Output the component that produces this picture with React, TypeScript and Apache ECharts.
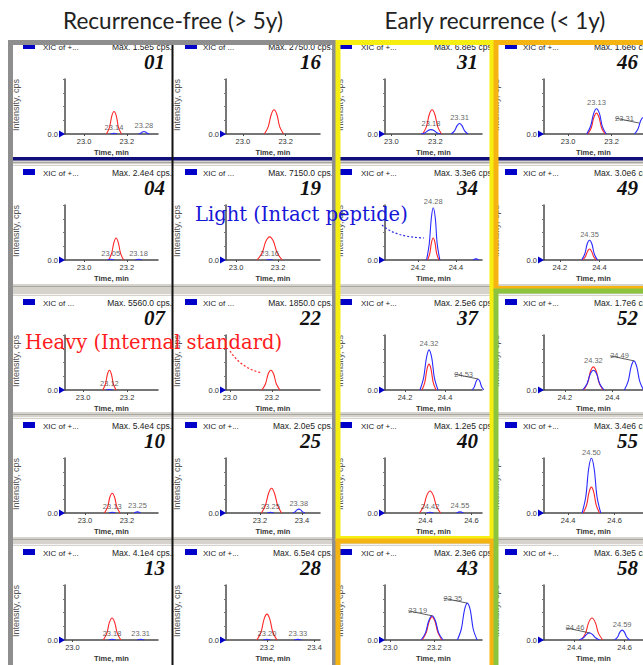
import React, { useEffect, useRef } from "react";
import * as echarts from "echarts";

const titles = ["Recurrence-free (> 5y)", "Early recurrence (< 1y)"];

// panels in row-major order (5 rows x 4 columns)
const panelIds = ["01", "16", "31", "46", "04", "19", "34", "49", "07", "22", "37", "52", "10", "25", "40", "55", "13", "28", "43", "58"];
const maxTexts = [
  "Max. 1.5e5 cps.", "Max. 2750.0 cps.", "Max. 6.8e5 cps.", "Max. 1.6e6 cps.",
  "Max. 2.4e4 cps.", "Max. 7150.0 cps.", "Max. 3.3e6 cps.", "Max. 3.0e6 cps.",
  "Max. 5560.0 cps.", "Max. 1850.0 cps.", "Max. 2.5e6 cps.", "Max. 1.7e6 cps.",
  "Max. 5.4e4 cps.", "Max. 2.0e5 cps.", "Max. 1.2e5 cps.", "Max. 3.4e6 cps.",
  "Max. 4.1e4 cps.", "Max. 6.5e4 cps.", "Max. 2.3e6 cps.", "Max. 6.3e5 cps.",
];
const xicTexts = [
  "XIC of +...", "XIC of ...", "XIC of +...", "XIC of +...",
  "XIC of +...", "XIC of ...", "XIC of +...", "XIC of +...",
  "XIC of ...", "XIC of ...", "XIC of +...", "XIC of +...",
  "XIC of +...", "XIC of +...", "XIC of +...", "XIC of +...",
  "XIC of +...", "XIC of +...", "XIC of +...", "XIC of +...",
];
const xMins = [22.911, 22.921, 22.971, 22.889, 22.911, 22.952, 24.026, 24.12, 22.918, 22.981, 24.1, 24.113, 22.905, 23.038, 24.224, 24.296, 22.966, 23.028, 22.976, 24.279];
const xMaxs = [23.346, 23.36, 23.412, 23.344, 23.346, 23.4, 24.537, 24.62, 23.341, 23.429, 24.585, 24.528, 23.348, 23.486, 24.646, 24.722, 23.389, 23.423, 23.417, 24.673];
const tickLabels = [
  [23.0, 23.2], [23.0, 23.2], [23.0, 23.2], [23.0, 23.2],
  [23.0, 23.2], [23.0, 23.2], [24.2, 24.4], [24.2, 24.4],
  [23.0, 23.2], [23.0, 23.2], [24.2, 24.4], [24.2, 24.4],
  [23.0, 23.2], [23.2, 23.4], [24.4, 24.6], [24.4, 24.6],
  [23.0], [23.2, 23.4], [23.0, 23.2], [24.4, 24.6],
];

// Heavy (internal standard) traces, red. [time, relative intensity]
const redPeaks = [
  [[[23.105, 0], [23.119, 0.12], [23.13, 0.33], [23.14, 0.41], [23.151, 0.33], [23.161, 0.12], [23.175, 0]]],
  [[[23.1, 0], [23.118, 0.13], [23.132, 0.35], [23.145, 0.44], [23.159, 0.35], [23.172, 0.13], [23.19, 0]]],
  [[[23.142, 0], [23.159, 0.13], [23.172, 0.35], [23.185, 0.44], [23.198, 0.35], [23.211, 0.13], [23.228, 0]]],
  [[[23.09, 0], [23.106, 0.11], [23.118, 0.3], [23.13, 0.38], [23.142, 0.3], [23.154, 0.11], [23.17, 0]]],
  [[[23.115, 0], [23.129, 0.12], [23.14, 0.32], [23.15, 0.4], [23.16, 0.32], [23.171, 0.12], [23.185, 0]]],
  [[[23.1, 0], [23.124, 0.13], [23.142, 0.34], [23.16, 0.42], [23.178, 0.34], [23.196, 0.13], [23.22, 0]]],
  [[[24.25, 0], [24.262, 0.12], [24.271, 0.32], [24.28, 0.4], [24.289, 0.32], [24.298, 0.12], [24.31, 0]]],
  [[[24.315, 0], [24.329, 0.06], [24.34, 0.16], [24.35, 0.2], [24.36, 0.16], [24.371, 0.06], [24.385, 0]]],
  [[[23.09, 0], [23.102, 0.11], [23.111, 0.29], [23.12, 0.36], [23.129, 0.29], [23.138, 0.11], [23.15, 0]]],
  [[[23.152, 0], [23.169, 0.11], [23.182, 0.29], [23.195, 0.36], [23.208, 0.29], [23.221, 0.11], [23.238, 0]]],
  [[[24.285, 0], [24.299, 0.14], [24.31, 0.38], [24.32, 0.47], [24.33, 0.38], [24.341, 0.14], [24.355, 0]]],
  [[[24.28, 0], [24.296, 0.13], [24.308, 0.34], [24.32, 0.42], [24.332, 0.34], [24.344, 0.13], [24.36, 0]]],
  [[[23.093, 0], [23.108, 0.11], [23.119, 0.29], [23.13, 0.36], [23.141, 0.29], [23.152, 0.11], [23.167, 0]]],
  [[[23.207, 0], [23.226, 0.14], [23.241, 0.36], [23.255, 0.45], [23.269, 0.36], [23.284, 0.14], [23.303, 0]]],
  [[[24.374, 0], [24.392, 0.12], [24.406, 0.32], [24.42, 0.4], [24.434, 0.32], [24.448, 0.12], [24.466, 0]]],
  [[[24.465, 0], [24.479, 0.14], [24.49, 0.38], [24.5, 0.47], [24.51, 0.38], [24.521, 0.14], [24.535, 0]]],
  [[[23.14, 0], [23.156, 0.12], [23.168, 0.32], [23.18, 0.4], [23.192, 0.32], [23.204, 0.12], [23.22, 0]]],
  [[[23.158, 0], [23.175, 0.14], [23.188, 0.38], [23.2, 0.47], [23.212, 0.38], [23.225, 0.14], [23.242, 0]]],
  [[[23.145, 0], [23.163, 0.13], [23.177, 0.34], [23.19, 0.42], [23.203, 0.34], [23.217, 0.13], [23.235, 0]]],
  [[[24.427, 0], [24.444, 0.12], [24.457, 0.32], [24.47, 0.4], [24.483, 0.32], [24.496, 0.12], [24.513, 0]]],
];

// Light (intact peptide) traces, blue.
const bluePeaks = [
  [[[23.125, 0], [23.14, 0.015], [23.155, 0]], [[23.255, 0], [23.265, 0.014], [23.273, 0.036], [23.28, 0.045], [23.288, 0.036], [23.295, 0.014], [23.305, 0]]],
  [],
  [[[23.135, 0], [23.153, 0.024], [23.167, 0.064], [23.18, 0.08], [23.194, 0.064], [23.207, 0.024], [23.225, 0]], [[23.272, 0], [23.287, 0.057], [23.299, 0.152], [23.31, 0.19], [23.321, 0.152], [23.333, 0.057], [23.348, 0]]],
  [[[23.085, 0], [23.103, 0.14], [23.117, 0.37], [23.13, 0.46], [23.144, 0.37], [23.157, 0.14], [23.175, 0]], [[23.305, 0], [23.321, 0.09], [23.333, 0.24], [23.345, 0.3], [23.357, 0.24], [23.369, 0.09], [23.385, 0]]],
  [[[23.11, 0], [23.125, 0.015], [23.14, 0]], [[23.24, 0], [23.255, 0.015], [23.27, 0]]],
  [[[23.145, 0], [23.16, 0.01], [23.175, 0]]],
  [[[24.245, 0], [24.259, 0.29], [24.27, 0.76], [24.28, 0.95], [24.291, 0.76], [24.301, 0.29], [24.315, 0]], [[24.49, 0], [24.505, 0.02], [24.52, 0]]],
  [[[24.31, 0], [24.326, 0.11], [24.338, 0.29], [24.35, 0.36], [24.362, 0.29], [24.374, 0.11], [24.39, 0]]],
  [[[23.105, 0], [23.12, 0.01], [23.135, 0]]],
  [],
  [[[24.275, 0], [24.293, 0.22], [24.307, 0.58], [24.32, 0.73], [24.334, 0.58], [24.347, 0.22], [24.365, 0]], [[24.535, 0], [24.547, 0.06], [24.556, 0.16], [24.565, 0.2], [24.574, 0.16], [24.583, 0.06], [24.595, 0]]],
  [[[24.275, 0], [24.293, 0.11], [24.307, 0.29], [24.32, 0.36], [24.334, 0.29], [24.347, 0.11], [24.365, 0]], [[24.45, 0], [24.466, 0.16], [24.478, 0.42], [24.49, 0.53], [24.502, 0.42], [24.514, 0.16], [24.53, 0]]],
  [[[23.115, 0], [23.13, 0.015], [23.145, 0]], [[23.235, 0], [23.25, 0.02], [23.265, 0]]],
  [[[23.235, 0], [23.25, 0.015], [23.265, 0]], [[23.355, 0], [23.367, 0.02], [23.376, 0.056], [23.385, 0.07], [23.394, 0.056], [23.403, 0.02], [23.415, 0]]],
  [[[24.405, 0], [24.42, 0.015], [24.435, 0]], [[24.535, 0], [24.55, 0.02], [24.565, 0]]],
  [[[24.46, 0], [24.476, 0.3], [24.488, 0.8], [24.5, 1.0], [24.512, 0.8], [24.524, 0.3], [24.54, 0]]],
  [[[23.165, 0], [23.18, 0.015], [23.195, 0]], [[23.295, 0], [23.31, 0.015], [23.325, 0]]],
  [[[23.185, 0], [23.2, 0.015], [23.215, 0]], [[23.315, 0], [23.33, 0.012], [23.345, 0]]],
  [[[23.14, 0], [23.16, 0.13], [23.175, 0.35], [23.19, 0.44], [23.205, 0.35], [23.22, 0.13], [23.24, 0]], [[23.305, 0], [23.323, 0.2], [23.337, 0.54], [23.35, 0.67], [23.364, 0.54], [23.377, 0.2], [23.395, 0]]],
  [[[24.42, 0], [24.436, 0.04], [24.448, 0.1], [24.46, 0.13], [24.472, 0.1], [24.484, 0.04], [24.5, 0]], [[24.56, 0], [24.572, 0.054], [24.581, 0.144], [24.59, 0.18], [24.599, 0.144], [24.608, 0.054], [24.62, 0]]],
];

// retention-time annotations: [time, intensity, text]
const peakLabels: [number, number, string][][] = [
  [[23.14, 0.015, "23.14"], [23.28, 0.045, "23.28"]],
  [],
  [[23.18, 0.08, "23.18"], [23.31, 0.19, "23.31"]],
  [[23.13, 0.46, "23.13"], [23.325, 0.2, "23.31"]],
  [[23.125, 0.015, "23.05"], [23.255, 0.015, "23.18"]],
  [[23.16, 0.01, "23.16"]],
  [[24.28, 0.95, "24.28"]],
  [[24.35, 0.36, "24.35"]],
  [[23.12, 0.01, "23.12"]],
  [],
  [[24.32, 0.73, "24.32"], [24.565, 0.2, "24.53"]],
  [[24.32, 0.42, "24.32"], [24.49, 0.53, "24.49"]],
  [[23.13, 0.015, "23.13"], [23.25, 0.02, "23.25"]],
  [[23.25, 0.015, "23.25"], [23.385, 0.07, "23.38"]],
  [[24.42, 0.015, "24.42"], [24.55, 0.02, "24.55"]],
  [[24.5, 1.0, "24.50"]],
  [[23.18, 0.015, "23.18"], [23.31, 0.015, "23.31"]],
  [[23.2, 0.015, "23.20"], [23.33, 0.012, "23.33"]],
  [[23.19, 0.44, "23.19"], [23.35, 0.67, "23.35"]],
  [[24.46, 0.13, "24.46"], [24.59, 0.18, "24.59"]],
];
const leaderKeys = ["46 23.31", "37 24.53", "52 24.49", "43 23.19", "43 23.35", "58 24.46"];

const lightText = "Light (Intact peptide)";
const heavyText = "Heavy (Internal standard)";

// layout
const rowHeaderY = [47, 173, 303, 426, 553];
const colAxisX = [65, 226, 385, 544];
const colAxisW = [93, 94, 97, 100];
const colRectX = [23, 185, 340, 505];
const colXicX = [43, 203, 361, 523];
const colMaxR = [172, 333, 494, 654];
const colNumR = [165, 321, 478, 638];
const colIntX = [16, 177, 340, 496];

const RED = "#ff2626";
const BLUE = "#2a2aff";
const SANS = "Liberation Sans, Arial, sans-serif";

function buildOption() {
  const grid: any[] = [];
  const xAxis: any[] = [];
  const yAxis: any[] = [];
  const series: any[] = [];
  const graphic: any[] = [];

  // row separators
  const bands = [
    [160, 166],
    [284, 296],
    [412, 419],
    [537, 546],
  ];
  bands.forEach(([a, b]) => {
    graphic.push({ type: "rect", shape: { x: 8, y: a, width: 640, height: b - a }, style: { fill: "#d6d3cc" }, z: 1 });
    graphic.push({ type: "rect", shape: { x: 8, y: a + 2, width: 640, height: 1 }, style: { fill: "#a8a6a0" }, z: 1 });
    graphic.push({ type: "rect", shape: { x: 8, y: b - 2, width: 640, height: 1 }, style: { fill: "#f4f4f4" }, z: 1 });
  });
  graphic.push({ type: "rect", shape: { x: 8, y: 157, width: 640, height: 3.5 }, style: { fill: "#10107a" }, z: 2 });

  panelIds.forEach((id, i) => {
    const r = Math.floor(i / 4);
    const c = i % 4;
    const hy = rowHeaderY[r];
    const ax = colAxisX[c];
    const ay = hy + 87;
    grid.push({ left: ax, top: hy + 32, width: colAxisW[c], height: 55 });
    xAxis.push({
      type: "value",
      gridIndex: i,
      min: xMins[i],
      max: xMaxs[i],
      name: "Time, min",
      nameLocation: "middle",
      nameGap: 14,
      nameTextStyle: { fontSize: 7.5, fontWeight: "bold", color: "#333", fontFamily: SANS },
      axisLine: { onZero: false, lineStyle: { color: "#4a4a4a", width: 1.5 } },
      axisTick: { show: true, length: 2, customValues: tickLabels[i], lineStyle: { color: "#4a4a4a" } },
      axisLabel: {
        customValues: tickLabels[i],
        formatter: (v: number) => v.toFixed(1),
        fontSize: 7.5,
        color: "#333",
        margin: 3,
        fontFamily: SANS,
      },
      splitLine: { show: false },
    });
    yAxis.push({
      type: "value",
      gridIndex: i,
      min: 0,
      max: 1,
      axisLine: { show: true, lineStyle: { color: "#4a4a4a", width: 1.5 } },
      axisTick: { show: true, length: 2, customValues: [0, 0.25, 0.5, 0.75, 1], lineStyle: { color: "#777" } },
      axisLabel: { customValues: [0], formatter: () => "0.0", fontSize: 7.5, color: "#333", margin: 7, fontFamily: SANS },
      splitLine: { show: false },
    });

    redPeaks[i].forEach((pk) => {
      series.push({
        type: "line", xAxisIndex: i, yAxisIndex: i, data: pk, showSymbol: false, smooth: 0.35,
        lineStyle: { color: RED, width: 1.1 }, itemStyle: { color: RED }, z: 3, silent: true,
      });
    });
    bluePeaks[i].forEach((pk) => {
      series.push({
        type: "line", xAxisIndex: i, yAxisIndex: i, data: pk, showSymbol: false, smooth: 0.35,
        lineStyle: { color: BLUE, width: 1.1 }, itemStyle: { color: BLUE }, z: 4, silent: true,
      });
    });
    const plain = peakLabels[i].filter((l) => !leaderKeys.includes(id + " " + l[2]));
    const lead = peakLabels[i].filter((l) => leaderKeys.includes(id + " " + l[2]));
    if (plain.length) {
      series.push({
        type: "scatter", xAxisIndex: i, yAxisIndex: i, data: plain, symbolSize: 0, z: 6, silent: true,
        label: { show: true, position: "top", distance: 2, formatter: (p: any) => p.value[2], fontSize: 7.5, color: "#3a3a3a", fontFamily: SANS },
      });
    }
    if (lead.length) {
      series.push({
        type: "scatter", xAxisIndex: i, yAxisIndex: i, data: lead, symbolSize: 0, z: 6, silent: true,
        label: { show: true, position: "left", distance: 5, formatter: (p: any) => p.value[2], fontSize: 7.5, color: "#3a3a3a", fontFamily: SANS },
        labelLayout: { dy: -5 },
        labelLine: { show: true, lineStyle: { color: "#333", width: 0.8 } },
      });
    }

    // header chrome
    graphic.push({ type: "rect", shape: { x: colRectX[c], y: hy - 4, width: 12, height: 6 }, style: { fill: "#0000c8" }, z: 5 });
    graphic.push({ type: "text", x: colXicX[c], y: hy, style: { text: xicTexts[i], fontSize: 8, fill: "#222", fontFamily: SANS, verticalAlign: "middle", align: "left" }, z: 5 });
    graphic.push({ type: "text", x: colMaxR[c], y: hy, style: { text: maxTexts[i], fontSize: 8.5, fill: "#222", fontFamily: SANS, verticalAlign: "middle", align: "right" }, z: 5 });
    graphic.push({
      type: "text", x: colNumR[c], y: hy + 15,
      style: { text: id, fontSize: 21, fontStyle: "italic", fontWeight: "bold", fill: "#111", fontFamily: "Liberation Serif, Times New Roman, serif", verticalAlign: "middle", align: "right" }, z: 5,
    });
    graphic.push({
      type: "text", x: colIntX[c], y: hy + 58, rotation: Math.PI / 2,
      style: { text: "Intensity, cps", fontSize: 9, fill: "#555", fontFamily: SANS, verticalAlign: "middle", align: "center" }, z: 5,
    });
    graphic.push({
      type: "polygon", shape: { points: [[ax - 6, ay - 3.5], [ax, ay], [ax - 6, ay + 3.5]] }, style: { fill: "#0000c8" }, z: 5,
    });
  });

  // column separator between the two recurrence-free columns
  graphic.push({ type: "rect", shape: { x: 171.5, y: 40, width: 2, height: 630 }, style: { fill: "#111" }, z: 60 });
  // group frames
  const frame = (x: number, y: number, w: number, h: number, color: string) => ({
    type: "rect", shape: { x, y, width: w, height: h }, style: { fill: "none", stroke: color, lineWidth: 5 }, z: 70,
  });
  graphic.push(frame(10.5, 42.5, 324, 640, "#8e8e8e"));
  graphic.push(frame(338, 42.5, 154, 496, "#f6ee10"));
  graphic.push(frame(338, 541, 154, 140, "#f6b412"));
  graphic.push(frame(496, 42.5, 160, 246, "#f6b412"));
  graphic.push(frame(496, 291, 160, 390, "#8cc43e"));

  // titles
  graphic.push({ type: "text", x: 173, y: 20, style: { text: titles[0], fontSize: 22.5, fill: "#222", fontFamily: "Lato, sans-serif", align: "center", verticalAlign: "middle" }, z: 80 });
  graphic.push({ type: "text", x: 495, y: 20, style: { text: titles[1], fontSize: 22.5, fill: "#222", fontFamily: "Lato, sans-serif", align: "center", verticalAlign: "middle" }, z: 80 });

  // overlay annotations
  graphic.push({ type: "text", x: 195, y: 214, style: { text: lightText, fontSize: 19.5, fill: "#1616d8", fontFamily: "DejaVu Serif, serif", align: "left", verticalAlign: "middle" }, z: 90 });
  graphic.push({ type: "text", x: 25, y: 342, style: { text: heavyText, fontSize: 19.5, fill: "#ff1c1c", fontFamily: "DejaVu Serif, serif", align: "left", verticalAlign: "middle" }, z: 90 });
  graphic.push({
    type: "bezierCurve", shape: { x1: 382, y1: 225, cpx1: 392, cpy1: 234, cpx2: 405, cpy2: 237, x2: 424, y2: 238 },
    style: { stroke: "#3030e0", lineWidth: 1.2, lineDash: [2, 2], fill: "none" }, z: 90,
  });
  graphic.push({
    type: "bezierCurve", shape: { x1: 230, y1: 351, cpx1: 237, cpy1: 362, cpx2: 248, cpy2: 370, x2: 262, y2: 373 },
    style: { stroke: "#ff2020", lineWidth: 1.2, lineDash: [2, 2], fill: "none" }, z: 90,
  });

  return { animation: false, backgroundColor: "#ffffff", grid, xAxis, yAxis, series, graphic };
}

export default function App() {
  const ref = useRef<HTMLDivElement>(null);
  useEffect(() => {
    if (!ref.current) return;
    const chart = echarts.init(ref.current, undefined, { renderer: "svg" });
    chart.setOption(buildOption() as any);
    return () => chart.dispose();
  }, []);
  return <div ref={ref} style={{ position: "fixed", left: 0, top: 0, width: 643, height: 665 }} />;
}
